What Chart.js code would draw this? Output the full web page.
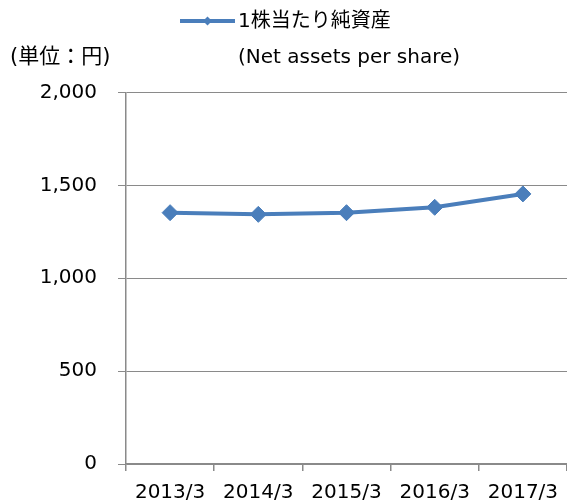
<!DOCTYPE html>
<html>
<head>
<meta charset="utf-8">
<script src="https://cdn.jsdelivr.net/npm/chart.js@4.4.0/dist/chart.umd.min.js"></script>
<style>
    html, body { margin: 0; padding: 0; background: #fff; }
    #wrap { width: 567px; height: 504px; position: relative; }
</style>
</head>
<body>
<div id="wrap"><canvas id="chart"></canvas></div>
<script>
// データ
const years = ['2013/3', '2014/3', '2015/3', '2016/3', '2017/3'];
const netAssets = [1353, 1344, 1353, 1382, 1454];
const seriesLabel = '1株当たり純資産';
const seriesLabelEn = '(Net assets per share)';
const unitLabel = '(単位：円)';

const lineColor = '#4a7ebb';
const gridColor = '#8a8a8a';
const font = 'DejaVu Sans, Noto Sans CJK JP, sans-serif';

// 凡例・単位を描くプラグイン
const legendPlugin = {
    id: 'customLegend',
    afterDraw(chart) {
        const ctx = chart.ctx;
        ctx.save();
        ctx.strokeStyle = lineColor;
        ctx.lineWidth = 4;
        ctx.beginPath();
        ctx.moveTo(180, 21);
        ctx.lineTo(235, 21);
        ctx.stroke();
        ctx.fillStyle = lineColor;
        ctx.beginPath();
        ctx.moveTo(207.5, 16.5);
        ctx.lineTo(212, 21);
        ctx.lineTo(207.5, 25.5);
        ctx.lineTo(203, 21);
        ctx.closePath();
        ctx.fill();

        ctx.fillStyle = '#000';
        ctx.font = '20px ' + font;
        ctx.textBaseline = 'middle';
        ctx.textAlign = 'left';
        ctx.fillText(seriesLabel, 238, 22);
        ctx.fillText(seriesLabelEn, 238, 58);
        ctx.font = '21px ' + font;
        ctx.fillText(unitLabel, 10, 58);
        ctx.restore();
    }
};

new Chart(document.getElementById('chart'), {
    type: 'line',
    data: {
        labels: years,
        datasets: [{
            label: seriesLabel,
            data: netAssets,
            borderColor: lineColor,
            backgroundColor: lineColor,
            borderWidth: 4,
            pointStyle: 'rectRot',
            pointRadius: 8,
            pointBorderWidth: 1,
            pointBackgroundColor: lineColor,
            pointBorderColor: lineColor,
            tension: 0
        }]
    },
    options: {
        responsive: true,
        maintainAspectRatio: false,
        animation: false,
        locale: 'en-US',
        layout: { autoPadding: false, padding: { top: 92.5, left: 0, right: 0, bottom: 0 } },
        plugins: {
            legend: { display: false },
            tooltip: { enabled: false }
        },
        scales: {
            x: {
                offset: true,
                grid: {
                    offset: true,
                    drawOnChartArea: false,
                    drawTicks: true,
                    tickLength: 7,
                    color: gridColor,
                    lineWidth: 1.5
                },
                border: { color: gridColor, width: 1.5 },
                ticks: {
                    color: '#000',
                    padding: 10,
                    maxRotation: 0,
                    autoSkip: false,
                    font: { family: font, size: 20 }
                },
                afterFit(scale) {
                    scale.height = 40;
                    scale.paddingLeft = 0;
                    scale.paddingRight = 0;
                }
            },
            y: {
                min: 0,
                max: 2000,
                ticks: {
                    stepSize: 500,
                    color: '#000',
                    padding: 21,
                    font: { family: font, size: 20 }
                },
                grid: {
                    color: gridColor,
                    lineWidth: 1,
                    tickLength: 8
                },
                border: { color: gridColor, width: 1.5 },
                afterFit(scale) {
                    scale.width = 126;
                    scale.paddingTop = 0;
                    scale.paddingBottom = 0;
                }
            }
        }
    },
    plugins: [legendPlugin]
});
</script>
</body>
</html>
